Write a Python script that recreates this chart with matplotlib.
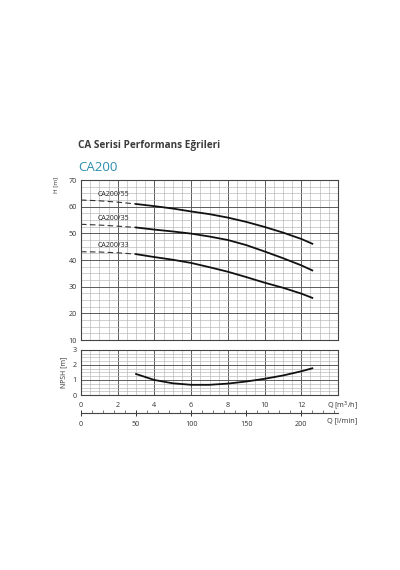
import matplotlib
matplotlib.use("Agg")
import matplotlib.pyplot as plt
import matplotlib.transforms as mtransforms
from matplotlib.ticker import MultipleLocator

plt.rcParams["font.family"] = ["Open Sans", "DejaVu Sans"]

# H-Q curves (Q in m3/h, H in m)
q_dash = [0.0, 1.0, 2.0, 3.0]
h55_dash = [62.5, 62.2, 61.7, 61.0]
h35_dash = [53.4, 53.1, 52.7, 52.2]
h33_dash = [43.1, 43.0, 42.7, 42.2]

q_solid = [3.0, 4.0, 5.0, 6.0, 7.0, 8.0, 9.0, 10.0, 11.0, 12.0, 12.6]
h55 = [61.0, 60.2, 59.3, 58.2, 57.2, 55.9, 54.3, 52.4, 50.3, 47.9, 46.1]
h35 = [52.2, 51.4, 50.7, 49.9, 48.8, 47.5, 45.6, 43.2, 40.7, 38.0, 36.1]
h33 = [42.2, 41.1, 40.1, 38.9, 37.3, 35.6, 33.6, 31.5, 29.6, 27.4, 25.8]
labels = ["CA200/55", "CA200/35", "CA200/33"]
label_h = [64.4, 55.4, 45.3]

# NPSH curve
q_npsh = [3.0, 4.0, 5.0, 6.0, 7.0, 8.0, 9.0, 10.0, 11.0, 12.0, 12.6]
npsh = [1.40, 1.00, 0.78, 0.68, 0.68, 0.76, 0.90, 1.08, 1.30, 1.58, 1.78]

fig = plt.figure(figsize=(4.0, 5.7), dpi=100)
fig.patch.set_facecolor("white")

L, W = 0.2025, 0.6425
ax = fig.add_axes([L, 0.4035, W, 0.2807])
ax2 = fig.add_axes([L, 0.307, W, 0.079])
ax3 = fig.add_axes([L, 0.2754, W, 0.0])

major_c = "#5a5a5a"
minor_c = "#b4b4b4"


def style_grid(a):
    a.grid(which="major", color=major_c, lw=0.7)
    a.grid(which="minor", color=minor_c, lw=0.45)
    a.set_axisbelow(True)
    for s in a.spines.values():
        s.set_color("#444444")
        s.set_linewidth(0.8)
    a.tick_params(which="both", length=0, labelsize=5.2, colors="#333333", pad=3)


ax.set_xlim(0, 14)
ax.set_ylim(10, 70)
ax.xaxis.set_major_locator(MultipleLocator(2))
ax.xaxis.set_minor_locator(MultipleLocator(0.5))
ax.yaxis.set_major_locator(MultipleLocator(10))
ax.yaxis.set_minor_locator(MultipleLocator(2.5))
ax.set_xticklabels([])
style_grid(ax)
ax.set_yticks([10, 20, 30, 40, 50, 60, 70])
ax.set_ylabel("H [m]", fontsize=4.5, labelpad=2, color="#333333")
ax.yaxis.set_label_coords(-0.09, 0.97)

for hd, hs, lab, lh in zip([h55_dash, h35_dash, h33_dash], [h55, h35, h33], labels, label_h):
    ax.plot(q_dash, hd, color="#333333", lw=0.8, ls=(0, (5, 3)))
    ax.plot(q_solid, hs, color="#111111", lw=1.3)
    ax.text(1.75, lh, lab, fontsize=5, color="#222222", va="center", ha="center")

ax2.set_xlim(0, 14)
ax2.set_ylim(0, 3)
ax2.xaxis.set_major_locator(MultipleLocator(2))
ax2.xaxis.set_minor_locator(MultipleLocator(0.5))
ax2.yaxis.set_major_locator(MultipleLocator(1))
ax2.yaxis.set_minor_locator(MultipleLocator(0.25))
style_grid(ax2)
ax2.set_xticks([0, 2, 4, 6, 8, 10, 12])
ax2.tick_params(axis="x", pad=5)
ax2.set_ylabel("NPSH [m]", fontsize=5, labelpad=4, color="#333333")
ax2.plot(q_npsh, npsh, color="#111111", lw=1.3)
tr = mtransforms.blended_transform_factory(ax2.transData, ax2.transAxes)
ax2.text(13.4, -0.235, "Q [m$^3$/h]", transform=tr, fontsize=5.2, color="#333333",
         va="center", ha="left", clip_on=False)

# l/min axis
ax3.set_xlim(0, 14 * 1000 / 60)
ax3.set_yticks([])
for s in ["top", "left", "right"]:
    ax3.spines[s].set_visible(False)
ax3.spines["bottom"].set_color("#444444")
ax3.spines["bottom"].set_linewidth(0.8)
ax3.xaxis.set_minor_locator(MultipleLocator(10))
ax3.set_xticks([0, 50, 100, 150, 200])
ax3.tick_params(axis="x", which="major", direction="inout", length=4, width=0.7,
                labelsize=5.2, colors="#333333", pad=4)
ax3.tick_params(axis="x", which="minor", direction="in", length=2, width=0.5, colors="#444444")
tr3 = mtransforms.blended_transform_factory(ax3.transData, fig.transFigure)
ax3.text(13.4 * 1000 / 60, 0.2614, "Q [l/min]", transform=tr3, fontsize=5.2,
         color="#333333", va="center", ha="left", clip_on=False)

fig.text(0.195, 0.744, "CA Serisi Performans Eğrileri", fontsize=7.2, fontweight="bold",
         color="#3c3c3c", va="center", ha="left")
fig.text(0.195, 0.707, "CA200", fontsize=9.5, color="#2a8db0", va="center", ha="left")

fig.savefig("out.png", dpi=100, facecolor="white")
